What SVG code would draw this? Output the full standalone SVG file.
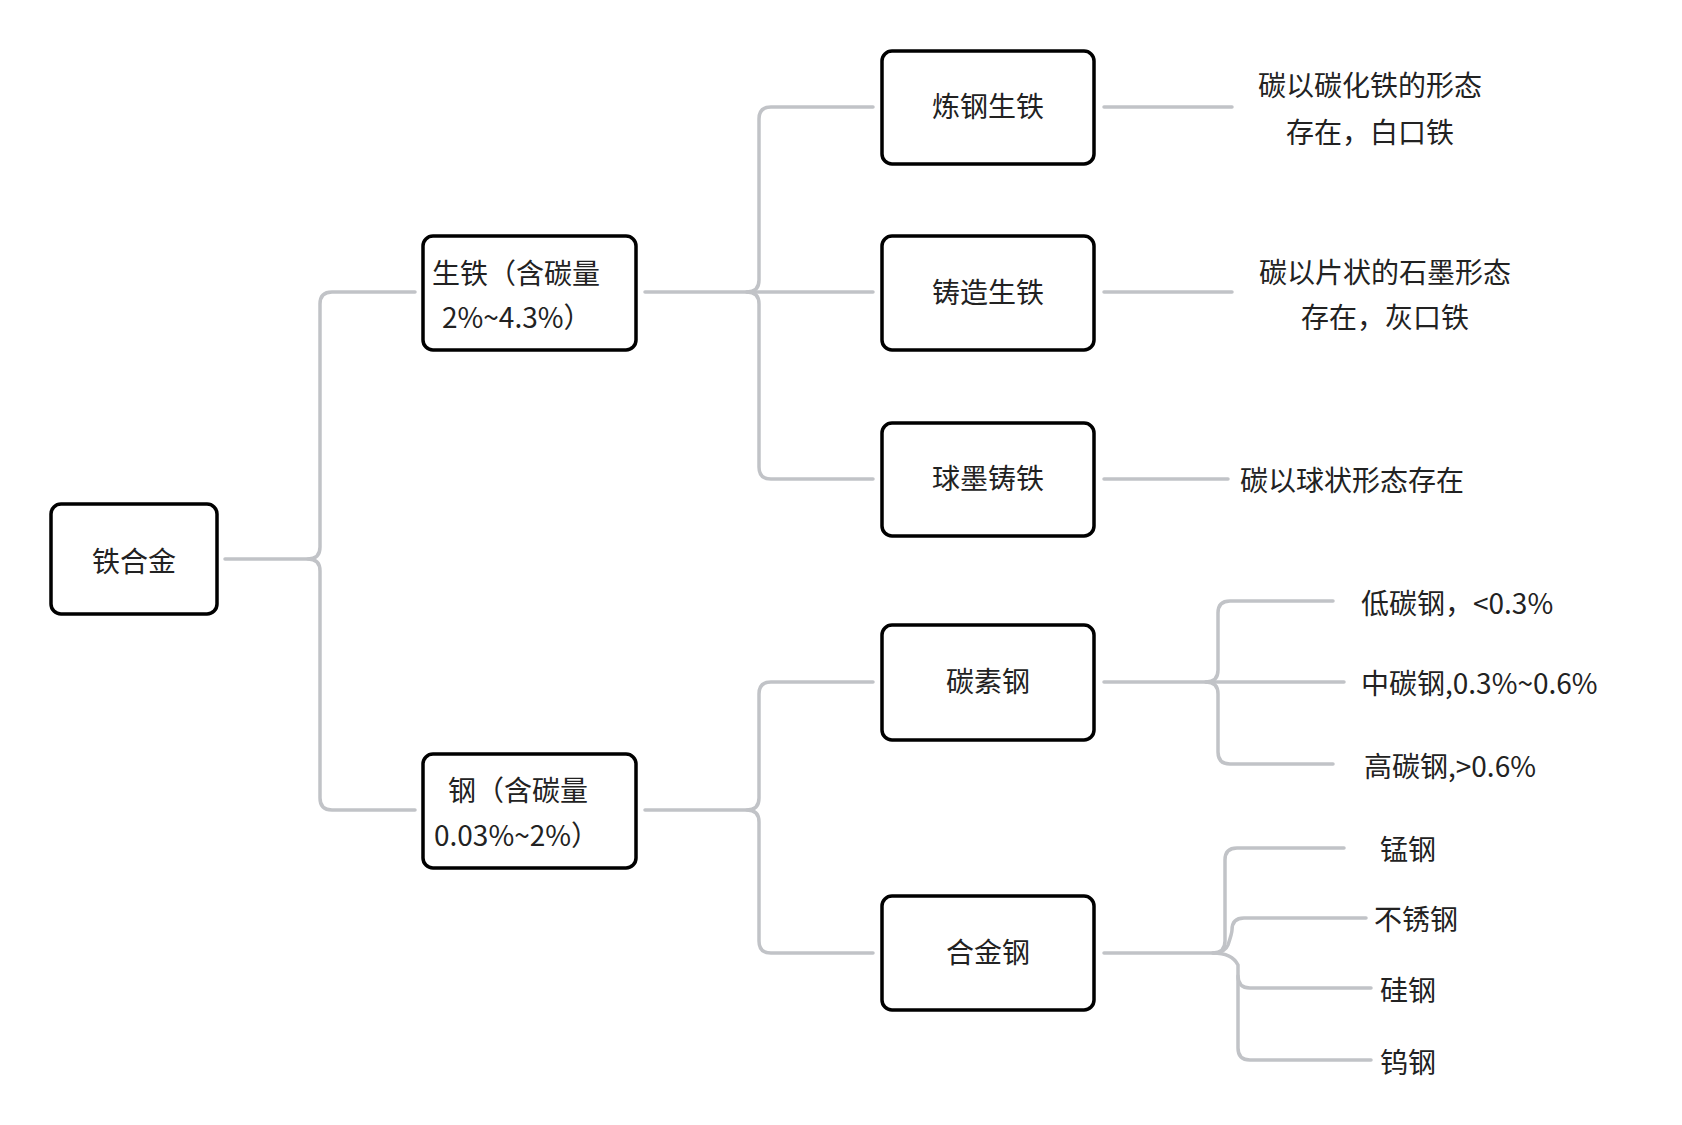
<svg xmlns="http://www.w3.org/2000/svg" width="1682" height="1125" viewBox="0 0 1682 1125">
<style>
.box{fill:#fff;stroke:#000;stroke-width:3.5}
.t{font-family:"Noto Sans CJK SC","Noto Sans",sans-serif;font-size:28px;fill:#222}
.c{fill:none;stroke:#c1c3c7;stroke-width:3.5;stroke-linecap:round}
</style>
<rect width="1682" height="1125" fill="#fff"/>
<g id="connectors">
<path class="c" d="M225 559 H308 Q320 559 320 547 V304 Q320 292 332 292 H415"/>
<path class="c" d="M308 559 Q320 559 320 571 V798 Q320 810 332 810 H415"/>
<path class="c" d="M645 292 H747 Q759 292 759 280 V119 Q759 107 771 107 H873"/>
<path class="c" d="M747 292 H873"/>
<path class="c" d="M747 292 Q759 292 759 304 V467 Q759 479 771 479 H873"/>
<path class="c" d="M645 810 H747 Q759 810 759 798 V694 Q759 682 771 682 H873"/>
<path class="c" d="M747 810 Q759 810 759 822 V941 Q759 953 771 953 H873"/>
<path class="c" d="M1104 107 H1232"/>
<path class="c" d="M1104 292 H1232"/>
<path class="c" d="M1104 479 H1228"/>
<path class="c" d="M1104 682 H1206 Q1218 682 1218 670 V613 Q1218 601 1230 601 H1333"/>
<path class="c" d="M1206 682 H1344"/>
<path class="c" d="M1206 682 Q1218 682 1218 694 V752 Q1218 764 1230 764 H1333"/>
<path class="c" d="M1104 953 H1213 Q1225 953 1225 941 V860 Q1225 848 1237 848 H1344"/>
<path class="c" d="M1213 953 Q1225 953 1228 945 Q1232 933 1232 930 Q1232 918 1244 918 H1366"/>
<path class="c" d="M1213 953 Q1232 953 1238 965 V976 Q1238 988 1250 988 H1371"/>
<path class="c" d="M1238 976 V1048 Q1238 1060 1250 1060 H1371"/>
</g>
<g id="root"><rect class="box" x="51" y="504" width="166" height="110" rx="10"/><text class="t" x="134" y="572" text-anchor="middle" font-size="37">铁合金</text></g>
<g id="n-shengtie"><rect class="box" x="423" y="236" width="213" height="114" rx="10"/><text class="t" x="432" y="284">生铁（含碳量</text><text class="t" x="442" y="328">2%~4.3%）</text></g>
<g id="n-gang"><rect class="box" x="423" y="754" width="213" height="114" rx="10"/><text class="t" x="448" y="801">钢（含碳量</text><text class="t" x="434" y="846">0.03%~2%）</text></g>
<g id="n-lian"><rect class="box" x="882" y="51" width="212" height="113" rx="10"/><text class="t" x="988" y="117" text-anchor="middle">炼钢生铁</text></g>
<g id="n-zhuzao"><rect class="box" x="882" y="236" width="212" height="114" rx="10"/><text class="t" x="988" y="303" text-anchor="middle">铸造生铁</text></g>
<g id="n-qiumo"><rect class="box" x="882" y="423" width="212" height="113" rx="10"/><text class="t" x="988" y="489" text-anchor="middle">球墨铸铁</text></g>
<g id="n-tansu"><rect class="box" x="882" y="625" width="212" height="115" rx="10"/><text class="t" x="988" y="692" text-anchor="middle">碳素钢</text></g>
<g id="n-hejin"><rect class="box" x="882" y="896" width="212" height="114" rx="10"/><text class="t" x="988" y="963" text-anchor="middle">合金钢</text></g>
<g id="l1"><text class="t" x="1370" y="96" text-anchor="middle">碳以碳化铁的形态</text><text class="t" x="1370" y="143" text-anchor="middle">存在，白口铁</text></g>
<g id="l2"><text class="t" x="1385" y="283" text-anchor="middle">碳以片状的石墨形态</text><text class="t" x="1385" y="328" text-anchor="middle">存在，灰口铁</text></g>
<g id="l3"><text class="t" x="1240" y="491">碳以球状形态存在</text></g>
<g id="l4"><text class="t" x="1361" y="614">低碳钢，&lt;0.3%</text></g>
<g id="l5"><text class="t" x="1361" y="694">中碳钢,0.3%~0.6%</text></g>
<g id="l6"><text class="t" x="1364" y="777">高碳钢,&gt;0.6%</text></g>
<g id="l7"><text class="t" x="1380" y="860">锰钢</text></g>
<g id="l8"><text class="t" x="1374" y="930">不锈钢</text></g>
<g id="l9"><text class="t" x="1380" y="1001">硅钢</text></g>
<g id="l10"><text class="t" x="1380" y="1073">钨钢</text></g>
</svg>
